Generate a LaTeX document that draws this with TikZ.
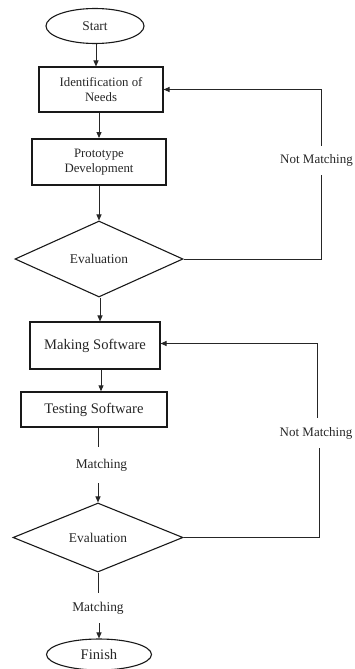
\documentclass[tikz,border=0pt]{standalone}
\usepackage{fontspec}
\setmainfont{Liberation Serif}
\usetikzlibrary{shapes.geometric,arrows.meta}

\tikzset{
  base/.style={draw=black!90, line width=1.1pt, inner sep=0pt, align=center, text=black!85},
  terminal/.style={base, ellipse},
  process/.style={base, rectangle},
  decision/.style={base, diamond},
  tag/.style={inner sep=0pt, text=black!85},
  link/.style={draw=black!85, line width=1pt},
  arr/.style={link, -{Triangle[length=6pt,width=5pt]}},
  fA/.style={font=\fontsize{12.8}{14.5}\selectfont},
  fB/.style={font=\fontsize{13.4}{15}\selectfont},
  fN/.style={font=\fontsize{13}{15}\selectfont},
  fC/.style={font=\fontsize{14.6}{16}\selectfont},
}

\begin{document}
\begin{tikzpicture}[x=1pt, y=-1pt]
  \useasboundingbox (0,0) rectangle (354,669);

  % main column
  \node[terminal, fB, minimum width=98pt, minimum height=35pt] (start) at (95,26) {Start};
  \node[process, fA, minimum width=124pt, minimum height=45pt] (ident) at (101,89.5) {Identification of\\Needs};
  \node[process, fA, line width=1.9pt, minimum width=134pt, minimum height=46pt] (proto) at (99,162) {Prototype\\Development};
  \node[decision, fB, minimum width=168pt, minimum height=76pt] (evalA) at (99,259) {Evaluation};
  \node[process, fC, minimum width=130pt, minimum height=47pt] (make) at (95,345.5) {Making Software};
  \node[process, fC, line width=1.4pt, minimum width=146pt, minimum height=35pt] (test) at (94,409.5) {Testing Software};
  \node[tag, fB, minimum height=36pt] (matchA) at (101.5,465) {Matching};
  \node[decision, fB, minimum width=170pt, minimum height=69pt] (evalB) at (98,537.5) {Evaluation};
  \node[tag, fB, minimum height=30pt] (matchB) at (98,608) {Matching};
  \node[terminal, fC, minimum width=105pt, minimum height=31pt] (finish) at (99,654.5) {Finish};

  % feedback labels
  \node[tag, fN, minimum height=29pt] (nmA) at (316.5,160.5) {Not Matching};
  \node[tag, fN, minimum height=30pt] (nmB) at (316,433) {Not Matching};

  % forward flow
  \draw[arr] ([xshift=1pt]start.south) -- ([xshift=1pt]start.south |- ident.north);
  \draw[arr] (ident.south -| proto.north) -- (proto.north);
  \draw[arr] (proto.south) -- (evalA.north);
  \draw[arr] ([xshift=1pt]evalA.south) -- ([xshift=1pt]evalA.south |- make.north);
  \draw[arr] ([xshift=6pt]make.south) -- ([xshift=6pt]make.south |- test.north);
  \draw[link] (test.south -| evalB.north) -- (matchA.north -| evalB.north);
  \draw[arr] (matchA.south -| evalB.north) -- (evalB.north);
  \draw[link] (evalB.south) -- (matchB.north -| evalB.south);
  \draw[arr] (matchB.south -| finish.north) -- (finish.north);

  % feedback loops
  \draw[link] (evalA.east) -| ([xshift=4.5pt]nmA.south);
  \draw[arr] ([xshift=4.5pt]nmA.north) |- (ident.east);
  \draw[link] (evalB.east) -| ([xshift=3pt]nmB.south);
  \draw[arr] ([xshift=1pt]nmB.north) |- ([yshift=2pt]make.east);
\end{tikzpicture}
\end{document}
